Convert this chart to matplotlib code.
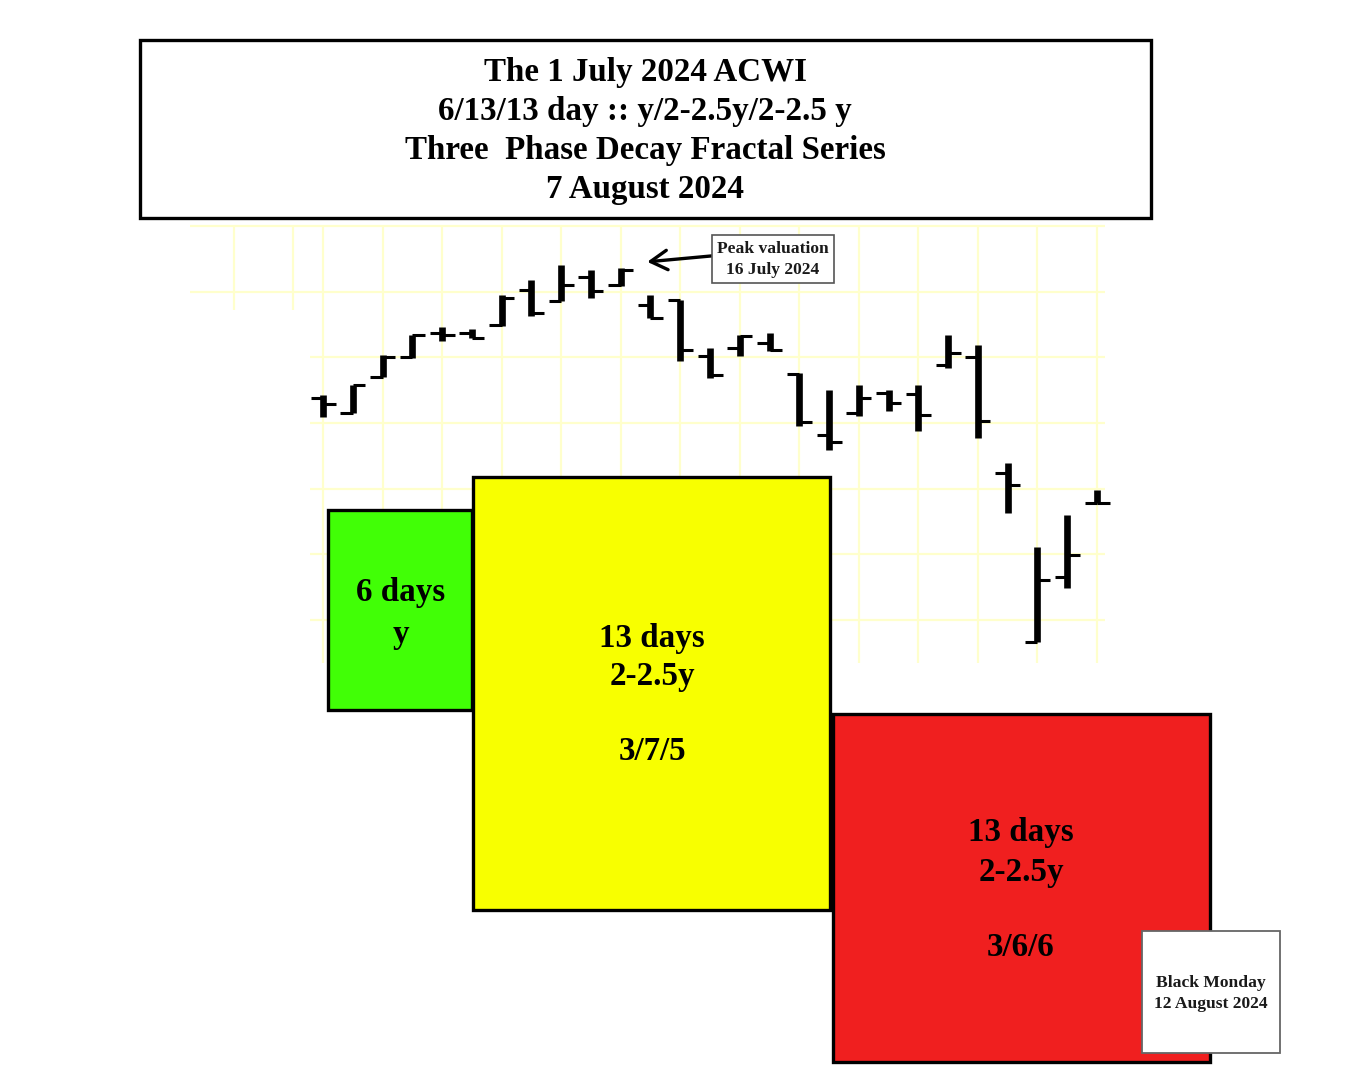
import matplotlib.pyplot as plt
from matplotlib.patches import Rectangle

# ACWI daily bars, 1 July - 7 August 2024 (open, high, low, close)
days = list(range(1, 28))
opens = [115.38, 115.15, 115.70, 116.00, 116.37, 116.37, 116.49, 117.03, 116.86,
         117.22, 117.10, 116.80, 116.87, 116.02, 116.14, 116.22, 115.75, 114.82,
         115.15, 115.46, 115.44, 115.88, 116.00, 114.24, 111.67, 112.66, 113.78]
highs = [115.43, 115.58, 116.04, 116.34, 116.46, 116.43, 116.95, 117.18, 117.41,
         117.33, 117.36, 116.95, 116.87, 116.14, 116.34, 116.37, 115.76, 115.50,
         115.58, 115.50, 115.58, 116.34, 116.19, 114.39, 113.11, 113.60, 113.98]
lows = [115.09, 115.15, 115.70, 115.99, 116.25, 116.29, 116.48, 116.63, 116.86,
        116.90, 117.09, 116.60, 115.94, 115.69, 116.02, 116.10, 114.95, 114.59,
        115.11, 115.18, 114.88, 115.84, 114.77, 113.63, 111.67, 112.49, 113.78]
closes = [115.29, 115.58, 116.00, 116.34, 116.34, 116.29, 116.90, 116.68, 117.10,
          117.01, 117.33, 116.60, 116.11, 115.73, 116.33, 116.11, 115.02, 114.71,
          115.38, 115.30, 115.12, 116.07, 115.03, 114.06, 112.61, 112.99, 113.78]

title_lines = ["The 1 July 2024 ACWI", "6/13/13 day :: y/2-2.5y/2-2.5 y",
               "Three  Phase Decay Fractal Series", "7 August 2024"]

W, H = 1352, 1072
fig = plt.figure(figsize=(W / 100, H / 100), dpi=100)

# price axes spread over the whole figure, limits chosen so bars land in place
ax = fig.add_axes([0, 0, 1, 1], zorder=0)
ax.set_xlim(-9.85, 35.565)
ax.set_ylim(105.117, 121.441)
ax.axis('off')

gc = '#ffffcc'
ax.hlines([118, 117], -3.47, 27.27, color=gc, lw=1.6, zorder=0)
ax.hlines([116, 115, 114, 113, 112], 0.56, 27.27, color=gc, lw=1.6, zorder=0)
ax.vlines(list(range(1, 28, 2)), 111.35, 118, color=gc, lw=1.6, zorder=0)
ax.vlines([-2, 0], 116.72, 118, color=gc, lw=1.6, zorder=0)

ax.vlines(days, lows, highs, color='black', lw=4.8, zorder=2)
ax.hlines(opens, [d - 0.42 for d in days], days, color='black', lw=2.2, zorder=2)
ax.hlines(closes, days, [d + 0.42 for d in days], color='black', lw=2.2, zorder=2)

# annotation layer in pixel coordinates
cv = fig.add_axes([0, 0, 1, 1], zorder=1)
cv.set_xlim(0, W)
cv.set_ylim(H, 0)
cv.axis('off')
cv.patch.set_alpha(0)

serif = ['Liberation Serif', 'DejaVu Serif']

cv.add_patch(Rectangle((140, 40), 1011, 178, fc='white', ec='black', lw=2.4, zorder=3))
for i, t in enumerate(title_lines):
    cv.text(645, 73 + i * 38.7, t, ha='center', va='center', fontsize=23.8,
            fontweight='bold', family=serif, zorder=4)

cv.add_patch(Rectangle((328, 510), 144, 200, fc='#41ff06', ec='black', lw=2.4, zorder=3))
cv.add_patch(Rectangle((473, 477), 357, 433, fc='#f8ff00', ec='black', lw=2.4, zorder=3))
cv.add_patch(Rectangle((833, 714), 377, 348, fc='#f01f1f', ec='black', lw=2.4, zorder=3))
cv.add_patch(Rectangle((1142, 931), 138, 122, fc='white', ec='#666666', lw=1.3, zorder=5))

big = dict(ha='center', va='center', fontsize=23.8, fontweight='bold', family=serif, zorder=4)
cv.text(401, 593, "6 days", **big)
cv.text(401, 634, "y", **big)
cv.text(652, 638, "13 days", **big)
cv.text(652, 677, "2-2.5y", **big)
cv.text(652, 752, "3/7/5", **big)
cv.text(1021, 833, "13 days", **big)
cv.text(1021, 872, "2-2.5y", **big)
cv.text(1021, 948, "3/6/6", **big)

small = dict(ha='center', va='center', fontsize=12.6, fontweight='bold', family=serif,
             color='#1a1a1a', zorder=6)
cv.text(1211, 983, "Black Monday", **small)
cv.text(1211, 1004, "12 August 2024", **small)

cv.add_patch(Rectangle((712, 235), 122, 48, fc='white', ec='#555555', lw=1.2, zorder=5))
cv.text(773, 249, "Peak valuation", **small)
cv.text(773, 270, "16 July 2024", **small)

# arrow to the 16 July peak bar
ax.annotate("", xy=(11.8, 117.45), xytext=(14.2, 117.55),
            arrowprops=dict(arrowstyle='->,head_length=1.2,head_width=0.7',
                            color='black', lw=2.4), zorder=6)

fig.savefig('out.png', dpi=100)
